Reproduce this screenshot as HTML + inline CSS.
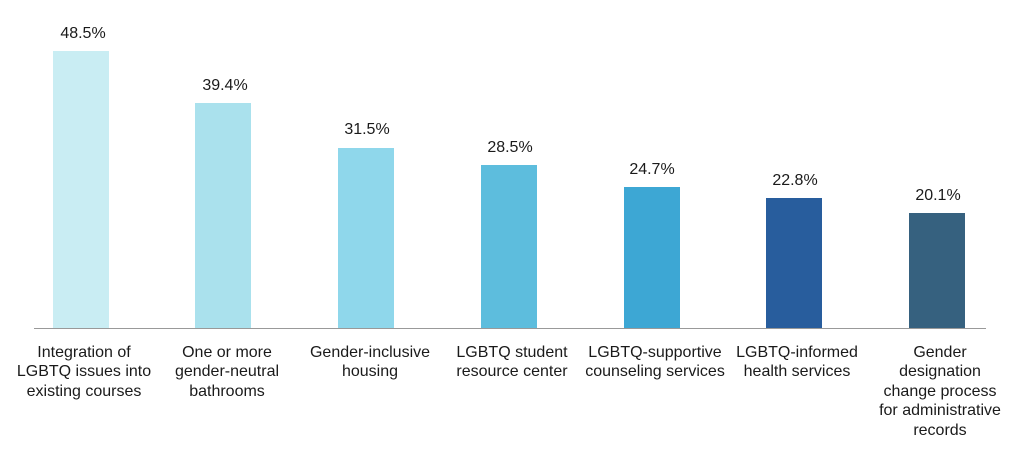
<!DOCTYPE html>
<html><head><style>
body{margin:0;background:#fff;width:1023px;height:460px;overflow:hidden}
svg text{font-family:"Liberation Sans",sans-serif;fill:#1a1a1a}
</style></head><body>
<svg width="1023" height="460" xmlns="http://www.w3.org/2000/svg">
<g>
<rect x="53" y="51" width="56" height="277" fill="#c9edf3"/>
<rect x="195" y="103" width="56" height="225" fill="#aae1ed"/>
<rect x="338" y="148" width="56" height="180" fill="#8fd7eb"/>
<rect x="481" y="165" width="56" height="163" fill="#5dbddd"/>
<rect x="624" y="187" width="56" height="141" fill="#3da7d4"/>
<rect x="766" y="198" width="56" height="130" fill="#285d9d"/>
<rect x="909" y="213" width="56" height="115" fill="#36617f"/>
</g>
<line x1="34" y1="328.5" x2="986" y2="328.5" stroke="#999" stroke-width="1"/>
<g font-size="16" text-anchor="middle">
<text x="83" y="38">48.5%</text>
<text x="225" y="90">39.4%</text>
<text x="367" y="134">31.5%</text>
<text x="510" y="152">28.5%</text>
<text x="652" y="174">24.7%</text>
<text x="795" y="185">22.8%</text>
<text x="938" y="200">20.1%</text>
</g>
<g font-size="16" text-anchor="middle">
<text x="84" y="357">Integration of</text>
<text x="84" y="376">LGBTQ issues into</text>
<text x="84" y="396">existing courses</text>
<text x="227" y="357">One or more</text>
<text x="227" y="376">gender-neutral</text>
<text x="227" y="396">bathrooms</text>
<text x="370" y="357">Gender-inclusive</text>
<text x="370" y="376">housing</text>
<text x="512" y="357">LGBTQ student</text>
<text x="512" y="376">resource center</text>
<text x="655" y="357">LGBTQ-supportive</text>
<text x="655" y="376">counseling services</text>
<text x="797" y="357">LGBTQ-informed</text>
<text x="797" y="376">health services</text>
<text x="940" y="357">Gender</text>
<text x="940" y="376">designation</text>
<text x="940" y="396">change process</text>
<text x="940" y="415">for administrative</text>
<text x="940" y="435">records</text>
</g>
</svg>
</body></html>
